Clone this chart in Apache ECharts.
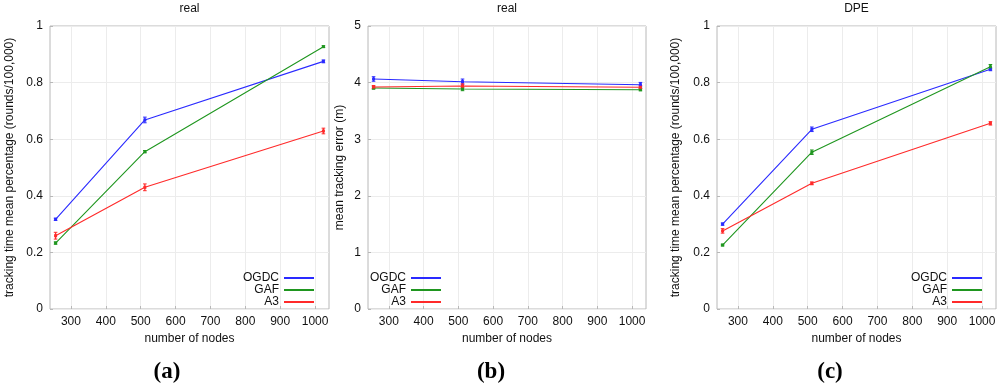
<!DOCTYPE html>
<html><head><meta charset="utf-8">
<script src="https://cdn.jsdelivr.net/npm/echarts@6/dist/echarts.min.js"></script>
<style>html,body{margin:0;padding:0;background:#fff}#c{width:1000px;height:388px}</style>
</head><body><div id="c"></div>
<script>
// ---- data ----
const nodes = [256, 512, 1024];
const seriesNames = ['OGDC', 'GAF', 'A3'];
const xTicks = [300, 400, 500, 600, 700, 800, 900, 1000];
const yTicksPct = [0, 0.2, 0.4, 0.6, 0.8, 1];
const yTicksErr = [0, 1, 2, 3, 4, 5];
const panelTitles = ['real', 'real', 'DPE'];
const captions = ['(a)', '(b)', '(c)'];
const xName = 'number of nodes';
const yNames = ['tracking time mean percentage (rounds/100,000)', 'mean tracking error (m)', 'tracking time mean percentage (rounds/100,000)'];

// panel (a) real, tracking time
const aOGDC = [0.317, 0.668, 0.875];
const aOGDCerr = [0.004, 0.010, 0.005];
const aGAF = [0.233, 0.556, 0.927];
const aGAFerr = [0.004, 0.004, 0.003];
const aA3 = [0.259, 0.430, 0.629];
const aA3err = [0.012, 0.012, 0.010];
// panel (b) real, tracking error
const bOGDC = [4.064, 4.016, 3.963];
const bOGDCerr = [0.04, 0.047, 0.04];
const bGAF = [3.905, 3.887, 3.875];
const bGAFerr = [0.02, 0.03, 0.02];
const bA3 = [3.922, 3.940, 3.917];
const bA3err = [0.027, 0.04, 0.03];
// panel (c) DPE, tracking time
const cOGDC = [0.300, 0.635, 0.847];
const cOGDCerr = [0.004, 0.008, 0.005];
const cGAF = [0.226, 0.554, 0.856];
const cGAFerr = [0.003, 0.008, 0.008];
const cA3 = [0.276, 0.444, 0.656];
const cA3err = [0.008, 0.005, 0.006];

// ---- chart ----
const colors = ['#2a2aff', '#1f961f', '#ff2a2a'];
const FONT = '"Liberation Sans", Arial, sans-serif';
const panels = [
  {vals: [aOGDC, aGAF, aA3], errs: [aOGDCerr, aGAFerr, aA3err], yMax: 1, yInt: 0.2, yTicks: yTicksPct},
  {vals: [bOGDC, bGAF, bA3], errs: [bOGDCerr, bGAFerr, bA3err], yMax: 5, yInt: 1, yTicks: yTicksErr},
  {vals: [cOGDC, cGAF, cA3], errs: [cOGDCerr, cGAFerr, cA3err], yMax: 1, yInt: 0.2, yTicks: yTicksPct}
];
const gridBoxes = [
  {left: 50, top: 26, width: 279, height: 283},
  {left: 368, top: 26, width: 278, height: 283},
  {left: 717, top: 26, width: 279, height: 283}
];
const yNameGaps = [34, 22, 35];
const legendPos = [
  {right: 686, top: 272},
  {right: 559, top: 272},
  {right: 18, top: 272}
];
const titleX = [189.5, 507, 856.5];
const captionX = [167, 491, 830];

function errItem(params, api) {
  const x = api.value(0), y = api.value(1), e = api.value(2);
  const p1 = api.coord([x, y + e]), p2 = api.coord([x, y - e]);
  const c = api.visual('color');
  const h = 1.8;
  return {type: 'group', children: [
    {type: 'line', shape: {x1: p1[0], y1: p1[1], x2: p2[0], y2: p2[1]}, style: {stroke: c, lineWidth: 1.3}},
    {type: 'line', shape: {x1: p1[0] - h, y1: p1[1], x2: p1[0] + h, y2: p1[1]}, style: {stroke: c, lineWidth: 1}},
    {type: 'line', shape: {x1: p2[0] - h, y1: p2[1], x2: p2[0] + h, y2: p2[1]}, style: {stroke: c, lineWidth: 1}}
  ]};
}

const grid = [], xAxis = [], yAxis = [], series = [], legend = [], graphic = [];
panels.forEach((p, i) => {
  grid.push(Object.assign({show: true, borderColor: '#b8b8b8', borderWidth: 1, backgroundColor: 'transparent'}, gridBoxes[i]));
  xAxis.push({
    type: 'value', gridIndex: i, min: 240, max: 1040,
    name: xName, nameLocation: 'middle', nameGap: 24,
    nameTextStyle: {fontSize: 12, fontFamily: FONT, color: '#111'},
    axisLine: {show: false},
    axisTick: {show: true, inside: true, length: 3, customValues: xTicks, lineStyle: {color: '#b8b8b8'}},
    axisLabel: {customValues: xTicks, formatter: v => String(v), fontSize: 12, fontFamily: FONT, color: '#111', margin: 7},
    splitLine: {show: true, lineStyle: {color: '#ececec', width: 1}}
  });
  yAxis.push({
    type: 'value', gridIndex: i, min: 0, max: p.yMax, interval: p.yInt,
    name: yNames[i], nameLocation: 'middle', nameGap: yNameGaps[i],
    nameTextStyle: {fontSize: 12, fontFamily: FONT, color: '#111'},
    axisLine: {show: false},
    axisTick: {show: true, inside: true, length: 3, lineStyle: {color: '#b8b8b8'}},
    axisLabel: {formatter: v => String(+v.toFixed(2)), fontSize: 12, fontFamily: FONT, color: '#111', margin: 7},
    splitLine: {show: true, lineStyle: {color: '#ececec', width: 1}}
  });
  seriesNames.forEach((n, k) => {
    series.push({
      type: 'line', name: n, xAxisIndex: i, yAxisIndex: i,
      data: nodes.map((x, j) => [x, p.vals[k][j]]),
      symbol: 'rect', symbolSize: 3, showSymbol: true,
      lineStyle: {color: colors[k], width: 1.1},
      itemStyle: {color: colors[k]},
      emphasis: {disabled: true}, animation: false
    });
    series.push({
      type: 'custom', name: n, xAxisIndex: i, yAxisIndex: i,
      data: nodes.map((x, j) => [x, p.vals[k][j], p.errs[k][j]]),
      renderItem: errItem, itemStyle: {color: colors[k]},
      z: 3, animation: false
    });
  });
  legend.push(Object.assign({
    orient: 'vertical', align: 'right', icon: 'rect',
    itemWidth: 30, itemHeight: 2, itemGap: 0, padding: 0,
    selectedMode: false,
    textStyle: {fontSize: 12, fontFamily: FONT, color: '#111', width: 42, align: 'right', lineHeight: 12},
    data: seriesNames.map((n, k) => ({name: n, itemStyle: {color: colors[k]}}))
  }, legendPos[i]));
  graphic.push({type: 'text', x: titleX[i], y: 9, style: {text: panelTitles[i], fontSize: 12, fontFamily: FONT, fill: '#111', align: 'center', verticalAlign: 'middle'}});
  graphic.push({type: 'text', x: captionX[i], y: 372, style: {text: captions[i], fontSize: 23, fontWeight: 'bold', fontFamily: '"Liberation Serif", "Times New Roman", serif', fill: '#000', align: 'center', verticalAlign: 'middle'}});
});

const chart = echarts.init(document.getElementById('c'), null, {renderer: 'canvas'});
chart.setOption({animation: false, grid, xAxis, yAxis, series, legend, graphic});
</script>
</body></html>
